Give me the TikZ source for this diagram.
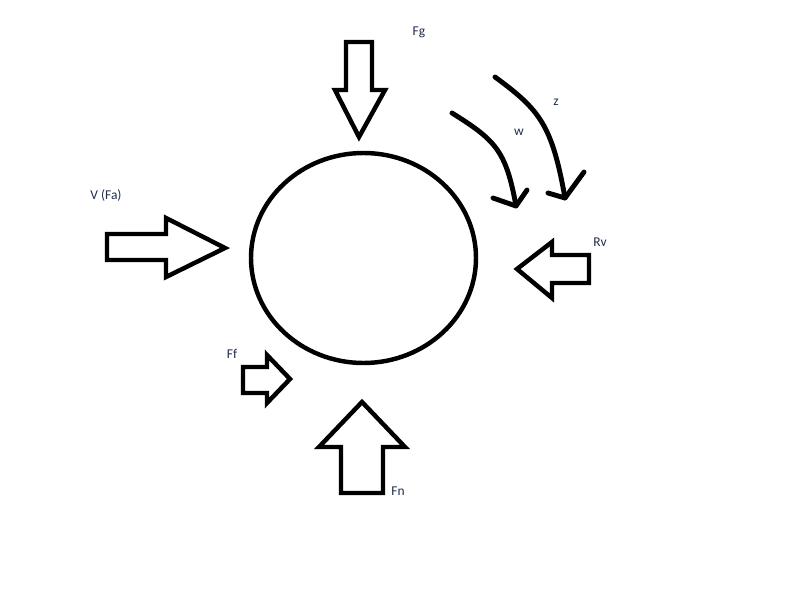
\documentclass[tikz,border=0pt]{standalone}
\usepackage{fontspec}
\setmainfont{Carlito}

\definecolor{labelblue}{RGB}{30,45,75}

\begin{document}
\begin{tikzpicture}[x=0.03cm,y=-0.03cm,
  blockarrow/.style={line width=3.8pt,line join=miter,fill=white},
  bendarrow/.style={line width=4.2pt,line cap=round,line join=round},
  forcelabel/.style={font=\fontsize{11.5}{13}\selectfont,text=labelblue,inner sep=0pt}]
\useasboundingbox (0,0) rectangle (800,590);
% ball
\draw [line width=3.8pt] (363.5,258) ellipse (112.5 and 105);
% block arrows
\draw [blockarrow] (346,42) -- (372,42) -- (372,90) -- (385,90) -- (359,137) -- (335,90) -- (346,90) -- cycle; % Fg
\draw [blockarrow] (107,234) -- (166,234) -- (166,218) -- (225,248) -- (166,277) -- (166,260) -- (107,260) -- cycle; % Fa
\draw [blockarrow] (589,255) -- (552,255) -- (552,242) -- (517,269) -- (552,298) -- (552,283) -- (589,283) -- cycle; % Rv
\draw [blockarrow] (243,367) -- (267,367) -- (267,355) -- (290,379) -- (267,403) -- (267,393) -- (243,393) -- cycle; % Ff
\draw [blockarrow] (341,493) -- (341,447) -- (319,447) -- (362,402) -- (405,447) -- (383,447) -- (383,493) -- cycle; % Fn
% rotation arrows
\draw [bendarrow] (452,113) .. controls (495,140) and (506,150) .. (516,206);
\draw [bendarrow] (493,198) -- (516,206) -- (527,190);
\draw [bendarrow] (495,77) .. controls (540,110) and (552,125) .. (565,198);
\draw [bendarrow] (548,193) -- (565,198) -- (584,172);
% labels
\node [forcelabel] (fg) at (419,32) {Fg};
\node [forcelabel] (fa) at (106,196) {V (Fa)};
\node [forcelabel] (rv) at (600,242) {Rv};
\node [forcelabel] (ff) at (232,354) {Ff};
\node [forcelabel] (fn) at (398,491) {Fn};
\node [forcelabel] (w) at (519,132) {w};
\node [forcelabel] (z) at (556,102) {z};
\end{tikzpicture}
\end{document}
